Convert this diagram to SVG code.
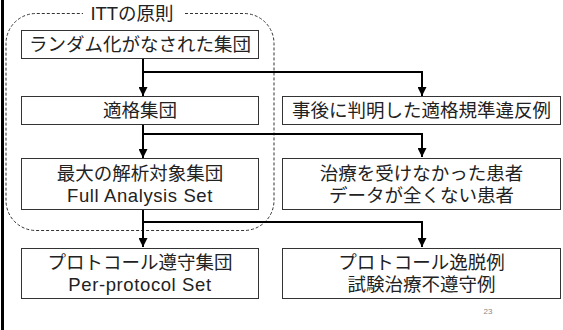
<svg xmlns="http://www.w3.org/2000/svg" width="563" height="330" viewBox="0 0 563 330">
<style>
.box{fill:#fff;stroke:#333;stroke-width:1}
.t{font-family:"Liberation Sans","Noto Sans CJK JP",sans-serif;font-size:18.5px;fill:#222;text-anchor:middle}
.l{letter-spacing:0.6px}
.c{fill:none;stroke:#000;stroke-width:2}
</style>
<defs>
<marker id="ah" viewBox="0 0 10 10" refX="10" refY="5" markerWidth="4.5" markerHeight="4.5" orient="auto" markerUnits="strokeWidth">
<path d="M0,0 L10,5 L0,10 z" fill="#000"/>
</marker>
</defs>
<rect x="0" y="0" width="563" height="330" fill="#fff"/>
<rect x="1" y="0" width="3" height="330" fill="#000"/>
<g id="itt-frame">
<path d="M185,13.5 H244 A30 30 0 0 1 274 43.5 V200.5 A30 30 0 0 1 244 230.5 H36 A30 30 0 0 1 6 200.5 V43.5 A30 30 0 0 1 36 13.5 H83" fill="none" stroke="#333" stroke-width="1" stroke-dasharray="3 2"/>
<text class="t" x="132" y="20">ITTの原則</text>
</g>
<g id="connectors">
<path class="c" d="M143,59 V96" marker-end="url(#ah)"/>
<path class="c" d="M143,72 H422 V96" marker-end="url(#ah)"/>
<path class="c" d="M143,124 V158" marker-end="url(#ah)"/>
<path class="c" d="M143,134 H422 V157" marker-end="url(#ah)"/>
<path class="c" d="M143,210 V247" marker-end="url(#ah)"/>
<path class="c" d="M143,222 H422 V247" marker-end="url(#ah)"/>
</g>
<g id="randomized">
<rect class="box" x="21.5" y="30.5" width="237" height="28"/>
<text class="t" x="140" y="51">ランダム化がなされた集団</text>
</g>
<g id="eligible">
<rect class="box" x="21.5" y="96.5" width="237" height="28"/>
<text class="t" x="140" y="117">適格集団</text>
</g>
<g id="ineligible">
<rect class="box" x="282.5" y="96.5" width="278" height="28"/>
<text class="t" x="421.5" y="117">事後に判明した適格規準違反例</text>
</g>
<g id="fas">
<rect class="box" x="21.5" y="158.5" width="237" height="51"/>
<text class="t" x="140" y="180">最大の解析対象集団</text>
<text class="t l" x="140" y="202">Full Analysis Set</text>
</g>
<g id="excluded-fas">
<rect class="box" x="282.5" y="158.5" width="278" height="51"/>
<text class="t" x="421.5" y="180">治療を受けなかった患者</text>
<text class="t" x="421.5" y="202">データが全くない患者</text>
</g>
<g id="pps">
<rect class="box" x="21.5" y="248.5" width="237" height="50"/>
<text class="t" x="140" y="269">プロトコール遵守集団</text>
<text class="t l" x="140" y="291">Per-protocol Set</text>
</g>
<g id="deviation">
<rect class="box" x="282.5" y="248.5" width="278" height="50"/>
<text class="t" x="421.5" y="269">プロトコール逸脱例</text>
<text class="t" x="421.5" y="291">試験治療不遵守例</text>
</g>
<text x="488" y="314" font-family="Liberation Sans, sans-serif" font-size="8" fill="#888" text-anchor="middle">23</text>
</svg>
